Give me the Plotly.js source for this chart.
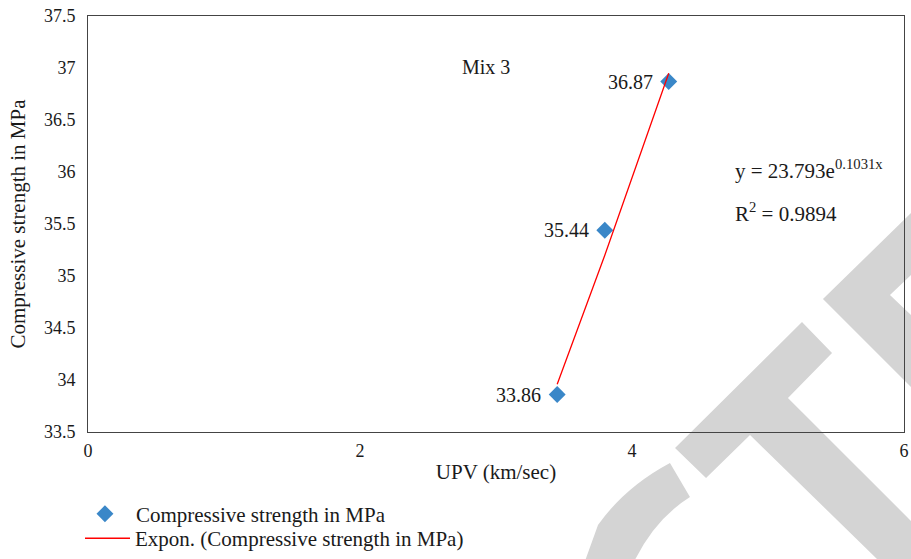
<!DOCTYPE html>
<html>
<head>
<meta charset="utf-8">
<script src="https://cdn.plot.ly/plotly-3.0.1.min.js"></script>
<style>
html,body{margin:0;padding:0;background:#fff;}
#chart{width:911px;height:559px;}
</style>
</head>
<body>
<div id="chart"></div>
<script>
// ---- data ----
var upv = [3.45, 3.80, 4.27];
var strength = [33.86, 35.44, 36.87];
var pointLabels = ["33.86", "35.44", "36.87"];
var trendX = [3.45, 3.80, 4.27];
var trendY = [33.96, 35.20, 36.95];
var seriesName = "Compressive strength in MPa";
var trendName = "Expon. (Compressive strength in MPa)";
var xTitle = "UPV (km/sec)";
var yTitle = "Compressive strength in MPa";
var mixLabel = "Mix 3";
var eqText = "y = 23.793e<sup>0.1031x</sup>";
var r2Text = "R<sup>2</sup> = 0.9894";

// ---- decoration (watermark) helpers ----
var L = 88, R = 904, T = 16, B = 432;
function px(x){ return ((x - L) / (R - L)).toFixed(4); }
function py(y){ return ((B - y) / (B - T)).toFixed(4); }
function poly(pts){
  return pts.map(function(p, i){ return (i ? 'L' : 'M') + px(p[0]) + ',' + py(p[1]); }).join(' ') + ' Z';
}
var wmColor = '#d4d4d4';
var wm1 = poly([[675,448],[802,322],[832,353],[788,398],[911,521],[911,559],[877,559],[750,435],[706,478]]);
var wm2 = poly([[911,213],[823,299],[911,387],[911,315],[890,295],[911,275]]);
var wm3 = 'M' + px(670) + ',' + py(463) + ' Q' + px(625) + ',' + py(487) + ' ' + px(598) + ',' + py(525) +
          ' L' + px(580) + ',' + py(575) + ' L' + px(628) + ',' + py(575) +
          ' Q' + px(650) + ',' + py(522) + ' ' + px(690) + ',' + py(497) + ' Z';

var serif = 'Liberation Serif';
var ink = '#1a1a1a';

var traces = [
  {
    x: upv, y: strength, name: seriesName,
    type: 'scatter', mode: 'markers',
    marker: {symbol: 'diamond', size: 13, color: '#3a87c8'},
    cliponaxis: false, legend: 'legend'
  },
  {
    x: trendX, y: trendY, name: trendName,
    type: 'scatter', mode: 'lines',
    line: {color: '#ff0000', width: 1.3}, legend: 'legend2'
  }
];

var annotations = [
  {x: 2.735, y: 37.01, xref: 'x', yref: 'y', text: mixLabel, showarrow: false, xanchor: 'left', yanchor: 'middle',
   font: {family: serif, size: 20, color: ink}},
  {x: 4.743, y: 36.02, xref: 'x', yref: 'y', text: eqText, showarrow: false, xanchor: 'left', yanchor: 'middle',
   font: {family: serif, size: 21, color: ink}},
  {x: 4.743, y: 35.61, xref: 'x', yref: 'y', text: r2Text, showarrow: false, xanchor: 'left', yanchor: 'middle',
   font: {family: serif, size: 21, color: ink}}
];
for (var i = 0; i < upv.length; i++) {
  annotations.push({x: upv[i], y: strength[i], xref: 'x', yref: 'y', text: pointLabels[i], showarrow: false,
    xanchor: 'right', yanchor: 'middle', xshift: -14, font: {family: serif, size: 20, color: ink}});
}

var layout = {
  width: 911, height: 559, autosize: false,
  margin: {l: L, r: 911 - R, t: T, b: 559 - B, autoexpand: false},
  paper_bgcolor: '#ffffff', plot_bgcolor: 'rgba(0,0,0,0)',
  font: {family: serif, color: ink, size: 18},
  showlegend: true,
  legend: {
    orientation: 'v', x: -0.0172, xanchor: 'left', y: -0.148, yanchor: 'top',
    font: {family: serif, size: 21, color: ink},
    bgcolor: 'rgba(0,0,0,0)', itemwidth: 52
  },
  legend2: {
    orientation: 'v', x: -0.0098, xanchor: 'left', y: -0.207, yanchor: 'top',
    font: {family: serif, size: 21, color: ink},
    bgcolor: 'rgba(0,0,0,0)', itemwidth: 45
  },
  xaxis: {
    range: [0, 6], dtick: 2, tick0: 0, showgrid: false, zeroline: false,
    showline: true, linecolor: '#444', linewidth: 1, mirror: true,
    ticks: '', ticklabelstandoff: 2,
    tickfont: {family: serif, size: 18, color: ink},
    title: {text: xTitle, font: {family: serif, size: 21, color: ink}, standoff: 4}
  },
  yaxis: {
    range: [33.5, 37.5], dtick: 0.5, tick0: 33.5, showgrid: false, zeroline: false,
    showline: true, linecolor: '#444', linewidth: 1, mirror: true,
    ticks: '', ticklabelstandoff: 8,
    tickfont: {family: serif, size: 18, color: ink},
    title: {text: yTitle, font: {family: serif, size: 21, color: ink}, standoff: 12}
  },
  annotations: annotations,
  shapes: [
    {type: 'path', xref: 'paper', yref: 'paper', path: wm1, fillcolor: wmColor, line: {width: 0}, layer: 'below'},
    {type: 'path', xref: 'paper', yref: 'paper', path: wm2, fillcolor: wmColor, line: {width: 0}, layer: 'below'},
    {type: 'path', xref: 'paper', yref: 'paper', path: wm3, fillcolor: wmColor, line: {width: 0}, layer: 'below'}
  ]
};

Plotly.newPlot('chart', traces, layout, {displayModeBar: false});
</script>
</body>
</html>
